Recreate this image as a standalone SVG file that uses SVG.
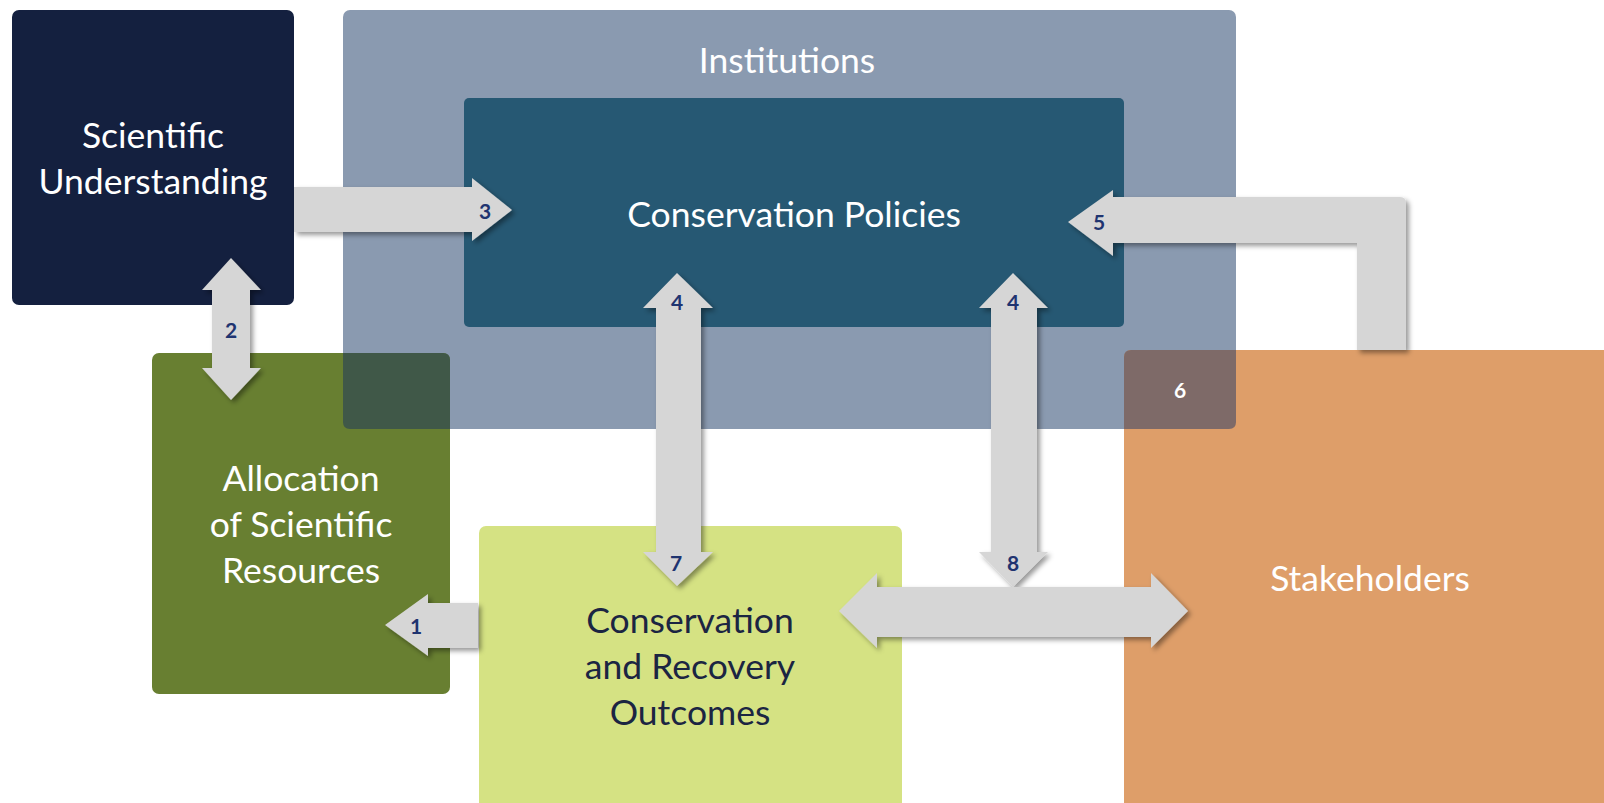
<svg xmlns="http://www.w3.org/2000/svg" width="1604" height="803" viewBox="0 0 1604 803">
<defs>
<filter id="sh" x="-20%" y="-20%" width="140%" height="140%">
<feDropShadow dx="3" dy="3" stdDeviation="2.5" flood-color="#000" flood-opacity="0.4"/>
</filter>
<style>
.t{font-family:Lato,"Open Sans",sans-serif;font-size:35.5px;text-anchor:middle;fill:#ffffff}
.d{fill:#1b2542}
.n{font-family:Lato,"Open Sans",sans-serif;font-size:21px;font-weight:bold;text-anchor:middle;fill:#1f3470}
.w{fill:#ffffff}
.arr{fill:#d6d6d6;filter:url(#sh)}
</style>
</defs>
<rect width="1604" height="803" fill="#ffffff"/>
<g id="institutions">
<rect x="343" y="10" width="893" height="419" rx="7" fill="#8a9ab0"/>
<text class="t" x="787" y="73">Institutions</text>
</g>
<g id="conservation-policies">
<rect x="464" y="98" width="660" height="229" rx="5" fill="#265873"/>
<text class="t" x="794" y="227">Conservation Policies</text>
</g>
<g id="scientific-understanding">
<rect x="12" y="10" width="282" height="295" rx="7" fill="#14203f"/>
<text class="t" x="153" y="148">Scientific</text>
<text class="t" x="153" y="194">Understanding</text>
</g>
<g id="allocation">
<rect x="152" y="353" width="298" height="341" rx="7" fill="#687f31"/>
<path d="M343,353 H443 Q450,353 450,360 V429 H350 Q343,429 343,422 Z" fill="#405848"/>
<text class="t" x="301" y="491">Allocation</text>
<text class="t" x="301" y="537">of Scientific</text>
<text class="t" x="301" y="583">Resources</text>
</g>
<g id="outcomes">
<rect x="479" y="526" width="423" height="290" rx="7" fill="#d5e283"/>
<text class="t d" x="690" y="633">Conservation</text>
<text class="t d" x="690" y="679">and Recovery</text>
<text class="t d" x="690" y="725">Outcomes</text>
</g>
<g id="stakeholders">
<rect x="1124" y="350" width="490" height="470" rx="7" fill="#de9e69"/>
<path d="M1124,357 Q1124,350 1131,350 H1236 V422 Q1236,429 1229,429 H1124 Z" fill="#7e6a68"/>
<text class="t" x="1370" y="591">Stakeholders</text>
</g>
<g id="connectors">
<path class="arr" d="M294,187 H472 V178 L512,210 L472,241 V232 H294 Z"/>
<path class="arr" d="M231,258 L261,290 H250 V368 H261 L231,400 L202,368 H212 V290 H202 Z"/>
<path class="arr" d="M1068,222 L1113,190 V197 H1400 Q1406,197 1406,203 V350 H1357 V243 H1113 V256 Z"/>
<path class="arr" d="M677,273 L713,308 H701 V552 H713 L677,586 L643,552 H656 V308 H643 Z"/>
<path class="arr" d="M1013,273 L1048,308 H1037 V552 H1048 L1013,587 L979,552 H991 V308 H979 Z"/>
<path class="arr" d="M385,625 L428,594 V603 H478 V648 H428 V656 Z"/>
<path class="arr" d="M839,611 L877,573 V587 H1151 V573 L1188,611 L1151,648 V637 H877 V648 Z"/>
</g>
<g id="labels">
<text class="n" x="485" y="219">3</text>
<text class="n" x="231" y="338">2</text>
<text class="n" x="1099" y="230">5</text>
<text class="n" x="677" y="310">4</text>
<text class="n" x="1013" y="310">4</text>
<text class="n w" x="1180" y="398">6</text>
<text class="n" x="676" y="571">7</text>
<text class="n" x="1013" y="571">8</text>
<text class="n" x="416" y="634">1</text>
</g>
</svg>
